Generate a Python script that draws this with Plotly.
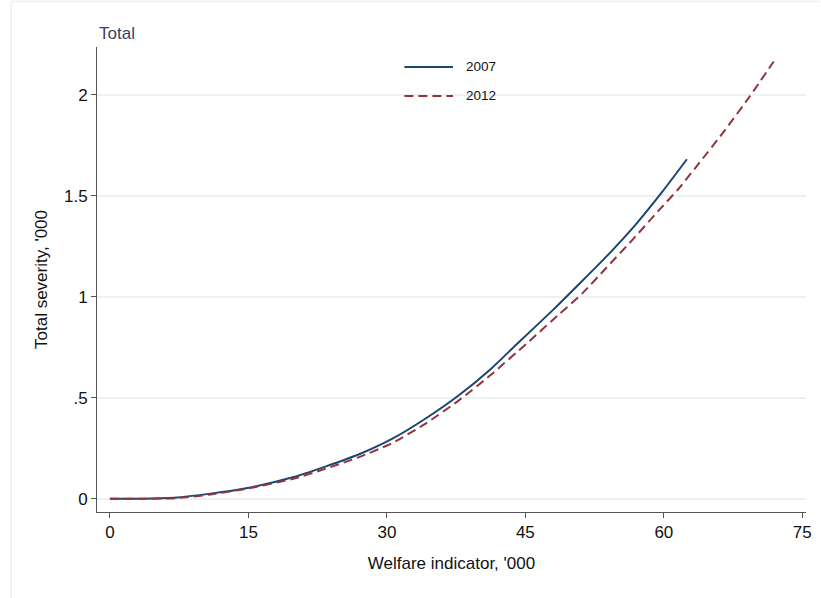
import plotly.graph_objects as go

# Welfare indicator ('000) and total severity ('000) by survey year
welfare_2007 = [0, 3.5, 7.0, 10.9, 14.9, 19.9, 23.4, 27.0, 30.6, 34.2, 37.8,
                41.2, 44.0, 48.0, 50.8, 53.9, 56.9, 59.8, 62.5]
severity_2007 = [0, 0, 0.005, 0.025, 0.053, 0.107, 0.160, 0.220, 0.297, 0.397,
                 0.512, 0.640, 0.762, 0.935, 1.062, 1.205, 1.355, 1.518, 1.681]

welfare_2012 = [0, 3.5, 7.0, 10.9, 14.9, 19.9, 23.4, 27.0, 30.6, 34.2, 37.8,
                41.2, 45.1, 48.7, 51.2, 53.7, 56.6, 59.4, 61.6, 63.7, 66.6,
                69.3, 71.9]
severity_2012 = [0, 0, 0.002, 0.021, 0.050, 0.099, 0.149, 0.206, 0.276, 0.372,
                 0.487, 0.611, 0.767, 0.915, 1.018, 1.140, 1.282, 1.425, 1.535,
                 1.655, 1.824, 1.992, 2.165]

series_names = ["2007", "2012"]
x_ticks = [0, 15, 30, 45, 60, 75]
y_ticks = [0, 0.5, 1, 1.5, 2]
y_tick_text = ["0", ".5", "1", "1.5", "2"]

NAVY = "#1A476F"
MAROON = "#90353B"
GRID = "#EAF2F3"
AXIS = "#555555"
FONT = "Liberation Sans, Arial, sans-serif"

W, H = 821, 598
ML, MR, MT, MB = 97, 9, 47, 86


def px_x(px):
    return (px - ML) / (W - ML - MR)


def px_y(py):
    return (H - MB - py) / (H - MT - MB)


fig = go.Figure()
fig.add_trace(go.Scatter(x=welfare_2007, y=severity_2007, mode="lines",
                         name=series_names[0],
                         line=dict(color=NAVY, width=2, shape="spline",
                                   smoothing=0.6)))
fig.add_trace(go.Scatter(x=welfare_2012, y=severity_2012, mode="lines",
                         name=series_names[1],
                         line=dict(color=MAROON, width=2, dash="9px,5px",
                                   shape="spline", smoothing=0.6)))

shapes = [
    # outer graph-region frame
    dict(type="line", xref="paper", yref="paper", x0=px_x(10.5), x1=px_x(W + 5),
         y0=px_y(1.5), y1=px_y(1.5), line=dict(color=GRID, width=1.5)),
    dict(type="line", xref="paper", yref="paper", x0=px_x(10.5), x1=px_x(10.5),
         y0=px_y(1.5), y1=px_y(H + 5), line=dict(color=GRID, width=1.5)),
]

annotations = [
    dict(text="Total", xref="paper", yref="paper", x=px_x(97), y=px_y(33),
         xanchor="left", yanchor="middle", showarrow=False,
         font=dict(family=FONT, size=17, color="#34436B")),
]

# key: sample lines and labels
legend_rows = [(series_names[0], NAVY, "solid", 67),
               (series_names[1], MAROON, "9px,5px", 96)]
for name, color, dash, py in legend_rows:
    shapes.append(dict(type="line", xref="paper", yref="paper",
                       x0=px_x(407), x1=px_x(456), y0=px_y(py), y1=px_y(py),
                       line=dict(color=color, width=2, dash=dash)))
    annotations.append(dict(text=name, xref="paper", yref="paper",
                            x=px_x(467), y=px_y(py), xanchor="left",
                            yanchor="middle", showarrow=False,
                            font=dict(family=FONT, size=13.5, color="#111111")))

fig.update_layout(
    width=W, height=H,
    margin=dict(l=ML, r=MR, t=MT, b=MB),
    paper_bgcolor="white", plot_bgcolor="white",
    showlegend=False,
    font=dict(family=FONT, size=17, color="#111111"),
    shapes=shapes, annotations=annotations,
    xaxis=dict(
        range=[-1.40, 75.4], tickvals=x_ticks,
        showgrid=False, zeroline=False,
        showline=True, linecolor=AXIS, linewidth=1,
        ticks="outside", ticklen=5, tickcolor=AXIS, tickwidth=1,
        tickfont=dict(size=17),
        title=dict(text="Welfare indicator, '000", font=dict(size=17), standoff=15),
    ),
    yaxis=dict(
        range=[-0.066, 2.237], tickvals=y_ticks, ticktext=y_tick_text,
        showgrid=True, gridcolor=GRID, gridwidth=1.5, zeroline=False,
        showline=True, linecolor=AXIS, linewidth=1,
        ticks="outside", ticklen=5, tickcolor=AXIS, tickwidth=1,
        tickfont=dict(size=17),
        title=dict(text="Total severity, '000", font=dict(size=17), standoff=12),
    ),
)

fig.write_html("out.html")
